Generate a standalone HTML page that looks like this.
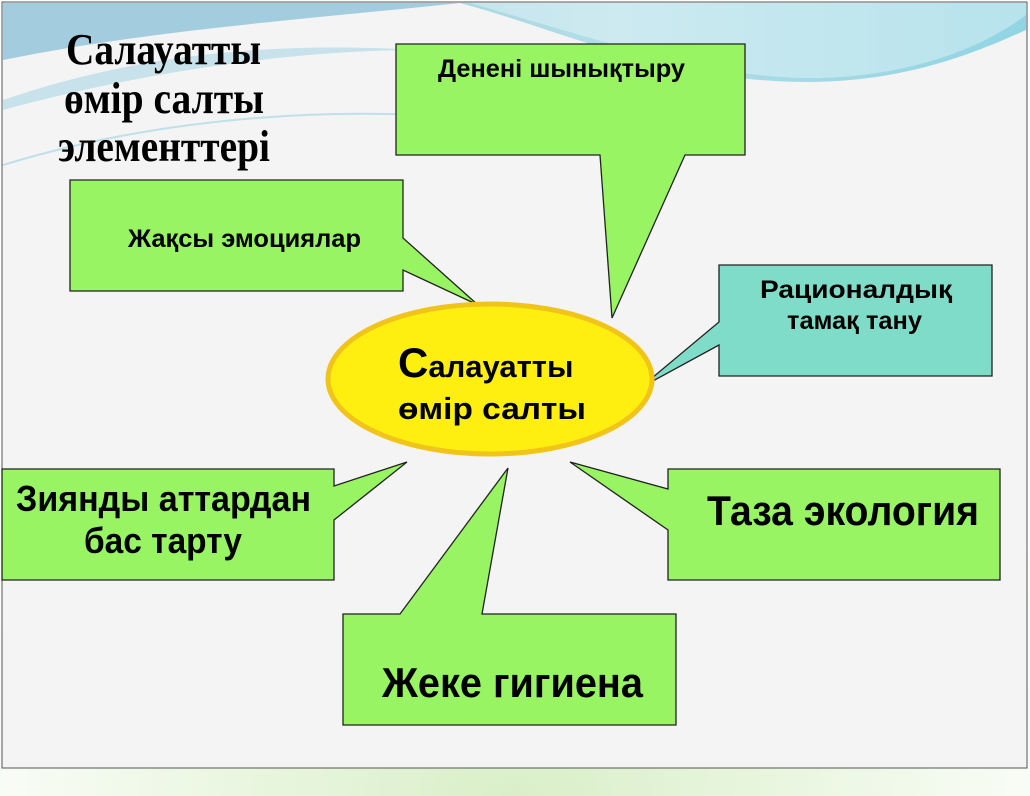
<!DOCTYPE html>
<html><head><meta charset="utf-8"><style>
html,body{margin:0;padding:0;background:#fff;}
svg{display:block;}
text{font-family:"Liberation Sans",sans-serif;font-weight:bold;fill:#000;}
</style></head><body>
<svg width="1030" height="796" viewBox="0 0 1030 796" xmlns="http://www.w3.org/2000/svg">
<defs>
<radialGradient id="gg" cx="0.5" cy="1" r="0.6">
<stop offset="0" stop-color="#d9efc8"/><stop offset="1" stop-color="#ffffff"/>
</radialGradient>
<linearGradient id="wv" x1="0" y1="0" x2="1" y2="0">
<stop offset="0" stop-color="#7fb9cf"/><stop offset="0.6" stop-color="#a6dbe6"/><stop offset="1" stop-color="#7fcfe0"/>
</linearGradient>
</defs>
<rect x="0" y="0" width="1030" height="796" fill="url(#gg)"/>
<rect x="2" y="2" width="1025" height="766" fill="#f4f4f4" stroke="#555" stroke-width="1"/>
<path d="M3,3 L460,3 C560,30 640,70 760,80 C880,90 960,60 1026,30 L1026,3 Z" fill="url(#wv)" opacity="0.85"/>
<path d="M3,3 L3,100 C120,60 250,40 420,50 C300,50 150,70 3,110" fill="#a8d6e2" opacity="0.6"/>
<path d="M3,60 C150,30 300,20 460,3 L3,3 Z" fill="#8fc3d8" opacity="0.8"/>
<path d="M470,3 C600,40 700,75 800,78 C900,80 980,50 1026,15 L1026,3 Z" fill="#ffffff" opacity="0.35"/>
<path d="M3,165 C150,120 300,110 420,115" stroke="#bfe0ea" stroke-width="2" fill="none"/>
<text x="66" y="64" style="font-family:'Liberation Serif',serif;font-size:44px" textLength="195" lengthAdjust="spacingAndGlyphs">Салауатты</text>
<text x="64" y="113" style="font-family:'Liberation Serif',serif;font-size:44px" textLength="200" lengthAdjust="spacingAndGlyphs">өмір салты</text>
<text x="58" y="161" style="font-family:'Liberation Serif',serif;font-size:44px" textLength="212" lengthAdjust="spacingAndGlyphs">элементтері</text>

<g stroke="#222" stroke-width="1.3" stroke-linejoin="miter">
<path d="M396,44 H745 V155 H685 L612,318 L600,155 H396 Z" fill="#98f462"/>
<path d="M70,180 H403 V238 L478,305 L403,270 V291 H70 Z" fill="#98f462"/>
<path d="M719,265 H992 V376 H719 V345 L640,388 L719,322 Z" fill="#7fdcc8"/>
<path d="M2,469 H334 V486 L407,462 L334,520 V580 H2 Z" fill="#98f462"/>
<path d="M668,469 H1000 V580 H668 V530 L570,462 L668,489 Z" fill="#98f462"/>
<path d="M343,614 H400 L508,468 L482,614 H676 V725 H343 Z" fill="#98f462"/>
</g>
<ellipse cx="490" cy="379" rx="162" ry="75" fill="#ffef10" stroke="#f1c419" stroke-width="5"/>

<text x="438" y="77" style="font-size:25px" textLength="247" lengthAdjust="spacingAndGlyphs">Денені шынықтыру</text>
<text x="128" y="247" style="font-size:25px" textLength="233" lengthAdjust="spacingAndGlyphs">Жақсы эмоциялар</text>
<text x="760" y="298" style="font-size:25px" textLength="192" lengthAdjust="spacingAndGlyphs">Рационалдық</text>
<text x="787" y="329" style="font-size:25px" textLength="135" lengthAdjust="spacingAndGlyphs">тамақ тану</text>
<text x="398" y="377"><tspan style="font-size:42px">С</tspan><tspan style="font-size:31px">алауатты</tspan></text>
<text x="398" y="419" style="font-size:31px" textLength="188" lengthAdjust="spacingAndGlyphs">өмір салты</text>
<text x="16" y="511" style="font-size:36px" textLength="295" lengthAdjust="spacingAndGlyphs">Зиянды аттардан</text>
<text x="84" y="553" style="font-size:36px" textLength="158" lengthAdjust="spacingAndGlyphs">бас тарту</text>
<text x="707" y="525" style="font-size:42px" textLength="272" lengthAdjust="spacingAndGlyphs">Таза экология</text>
<text x="382" y="697" style="font-size:42px" textLength="261" lengthAdjust="spacingAndGlyphs">Жеке гигиена</text>
</svg>
</body></html>
